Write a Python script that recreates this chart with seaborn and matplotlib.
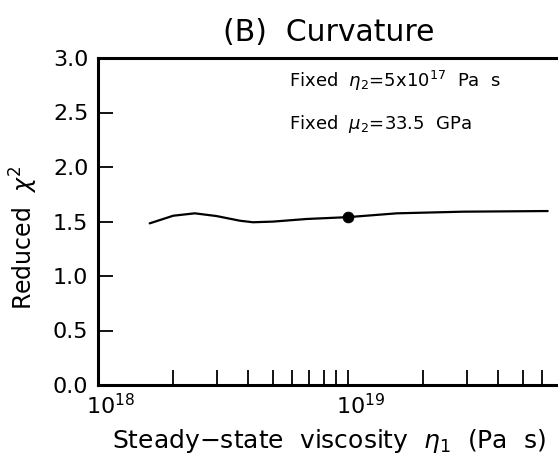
import numpy as np
import pandas as pd
import matplotlib
matplotlib.use("Agg")
import matplotlib.pyplot as plt
import matplotlib.transforms as mtransforms
import seaborn as sns
from matplotlib.ticker import LogLocator, NullFormatter

# Data
eta1 = [1.61e18, 2.0e18, 2.44e18, 2.98e18, 3.70e18, 4.17e18, 5.01e18,
        6.83e18, 1.0e19, 1.57e19, 2.88e19, 6.3e19]
chi2 = [1.483, 1.553, 1.575, 1.55, 1.507, 1.493, 1.499,
        1.523, 1.54, 1.575, 1.59, 1.596]
best_eta1 = [1.0e19]
best_chi2 = [1.54]

title = "(B)  Curvature"
xlabel = r"Steady$-$state  viscosity  $\eta_1$  (Pa  s)"
ylabel = r"Reduced  $\chi^2$"
note1 = r"Fixed  $\eta_2$=5x10$^{17}$  Pa  s"
note2 = r"Fixed  $\mu_2$=33.5  GPa"

sns.set_style("ticks")
plt.rcParams['font.family'] = ['DejaVu Sans']
plt.rcParams['mathtext.fontset'] = 'dejavusans'
plt.rcParams['text.color'] = 'black'
plt.rcParams['axes.labelcolor'] = 'black'

LEFT_PX = 98
DEC_PX = 250
fig = plt.figure(figsize=(5.58, 4.68), dpi=100)
ax = fig.add_axes([LEFT_PX/558, 83/468, 1.0 - LEFT_PX/558 + 0.002, 327/468])

df = pd.DataFrame({"eta1": eta1, "chi2": chi2})
sns.lineplot(data=df, x="eta1", y="chi2", ax=ax, color="black", lw=1.6)
sns.scatterplot(x=best_eta1, y=best_chi2, ax=ax, color="black", s=60,
                edgecolor="black", zorder=5)

ax.set_xscale("log")
ax.set_xlim(1e18, 10 ** (18 + (558 - LEFT_PX) / DEC_PX + 0.005))
ax.set_ylim(0, 3.0)
ax.set_yticks([0, 0.5, 1.0, 1.5, 2.0, 2.5, 3.0])
ax.set_yticklabels(["0.0", "0.5", "1.0", "1.5", "2.0", "2.5", "3.0"])
ax.xaxis.set_major_locator(LogLocator(base=10, numticks=5))
ax.xaxis.set_minor_locator(LogLocator(base=10, subs=np.arange(2, 10), numticks=20))
ax.xaxis.set_minor_formatter(NullFormatter())

for s in ["left", "bottom", "top"]:
    ax.spines[s].set_linewidth(2.2)
    ax.spines[s].set_color("black")
ax.spines["right"].set_visible(False)

ax.tick_params(axis="both", which="both", direction="in", width=1.3,
               labelsize=16, colors="black", top=False, right=False)
ax.tick_params(axis="both", which="major", length=11, pad=7)
ax.tick_params(axis="x", which="minor", length=11)
ax.tick_params(axis="x", which="major", pad=6)
offset = mtransforms.ScaledTranslation(-12/100, 0, fig.dpi_scale_trans)
for lbl in ax.xaxis.get_majorticklabels():
    lbl.set_horizontalalignment("left")
    lbl.set_transform(lbl.get_transform() + offset)

ax.set_xlabel(xlabel, fontsize=18, labelpad=6)
ax.set_ylabel(ylabel, fontsize=17)
ax.yaxis.set_label_coords(-0.125, 0.45)
ax.set_title(title, fontsize=21.5, pad=12, color="black")

ax.text(0.414, 0.93, note1, transform=ax.transAxes, fontsize=13,
        va="center", ha="left")
ax.text(0.414, 0.798, note2, transform=ax.transAxes, fontsize=13,
        va="center", ha="left")

fig.savefig("out.png", dpi=100)
